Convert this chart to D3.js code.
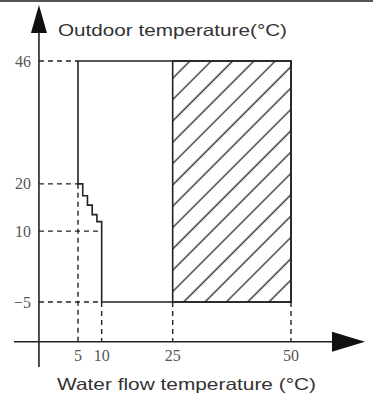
<!DOCTYPE html>
<html>
<head>
<meta charset="utf-8">
<script src="https://cdn.jsdelivr.net/npm/d3@7"></script>
<style>
  html, body { margin: 0; padding: 0; background: #fff; }
  svg { display: block; }
</style>
</head>
<body>
<script>
// ---- data ----
const xTicks = [5, 10, 25, 50];
const yTicks = [46, 20, 10, -5];
const xTickLabels = ["5", "10", "25", "50"];
const yTickLabels = ["46", "20", "10", "\u22125"];
// operating envelope outline (water flow temp, outdoor temp)
const envelopeX = [5, 5, 6, 6, 7, 7, 8, 8, 9, 9, 10, 10, 50, 50, 5];
const envelopeY = [46, 20, 20, 17.5, 17.5, 15.5, 15.5, 13.5, 13.5, 12, 12, -5, -5, 46, 46];
// hatched zone
const hatchX = [25, 50];
const hatchY = [-5, 46];
// reference dashed guides: [value, extends-to]
const hGuides = [[46, 5], [20, 5], [10, 10], [-5, 10]];
const vGuides = [[5, 20], [10, -5], [25, -5], [50, -5]];
const xTitle = "Water flow temperature (°C)";
const yTitle = "Outdoor temperature(°C)";
const axisXAt = -3.25;   // x-value where the vertical axis sits
const axisYAt = -13.4;   // y-value where the horizontal axis sits

// ---- drawing ----
const W = 373, H = 398;
const svg = d3.select("body").append("svg").attr("width", W).attr("height", H);

const x = d3.scaleLinear().domain([5, 50]).range([78, 291]);
const y = d3.scaleLinear().domain([-5, 46]).range([302, 61]);

const ink = "#222";
const defs = svg.append("defs");
const pw = 21.33 / Math.SQRT2;
const pat = defs.append("pattern")
  .attr("id", "hatch")
  .attr("patternUnits", "userSpaceOnUse")
  .attr("width", pw).attr("height", pw)
  .attr("patternTransform", "rotate(45)");
pat.append("line")
  .attr("x1", 11.6).attr("x2", 11.6).attr("y1", -1).attr("y2", pw + 1)
  .attr("stroke", "#333").attr("stroke-width", 1.4);

// top frame line
svg.append("line").attr("x1", 0).attr("x2", W).attr("y1", 1).attr("y2", 1)
  .attr("stroke", "#555").attr("stroke-width", 2);

// hatched area
svg.append("rect")
  .attr("x", x(hatchX[0])).attr("y", y(hatchY[1]))
  .attr("width", x(hatchX[1]) - x(hatchX[0]))
  .attr("height", y(hatchY[0]) - y(hatchY[1]))
  .attr("fill", "url(#hatch)")
  .attr("stroke", ink).attr("stroke-width", 1.6);

// dashed guides
const ax0 = x(axisXAt), ay0 = y(axisYAt);
const dash = "5,4";
hGuides.forEach(([v, to]) => {
  svg.append("line").attr("x1", ax0).attr("x2", x(to)).attr("y1", y(v)).attr("y2", y(v))
    .attr("stroke", ink).attr("stroke-width", 1.4).attr("stroke-dasharray", dash);
});
vGuides.forEach(([v, from]) => {
  svg.append("line").attr("x1", x(v)).attr("x2", x(v)).attr("y1", y(from)).attr("y2", ay0)
    .attr("stroke", ink).attr("stroke-width", 1.4).attr("stroke-dasharray", dash);
});

// envelope outline
const pts = envelopeX.map((d, i) => [x(d), y(envelopeY[i])]);
svg.append("path").attr("d", d3.line()(pts))
  .attr("fill", "none").attr("stroke", ink).attr("stroke-width", 1.6)
  .attr("stroke-linejoin", "miter");

// axes
svg.append("line").attr("x1", ax0).attr("x2", ax0).attr("y1", 28).attr("y2", 367)
  .attr("stroke", ink).attr("stroke-width", 1.6);
svg.append("line").attr("x1", 14).attr("x2", 340).attr("y1", ay0).attr("y2", ay0)
  .attr("stroke", ink).attr("stroke-width", 1.6);
// arrow heads
svg.append("path")
  .attr("d", `M${ax0},5 L${ax0 + 8},33 L${ax0 - 8},33 Z`).attr("fill", "#111");
svg.append("path")
  .attr("d", `M365,${ay0} L332,${ay0 - 10} L332,${ay0 + 10} Z`).attr("fill", "#111");

// tick labels
const tickFont = "'Liberation Serif', 'DejaVu Serif', serif";
svg.selectAll(".xt").data(xTicks).enter().append("text")
  .attr("x", d => x(d)).attr("y", 361)
  .attr("text-anchor", "middle")
  .attr("font-family", tickFont).attr("font-size", 16).attr("fill", "#555")
  .text((d, i) => xTickLabels[i]);
svg.selectAll(".yt").data(yTicks).enter().append("text")
  .attr("x", 31).attr("y", d => y(d) + 5.5)
  .attr("text-anchor", "end")
  .attr("font-family", tickFont).attr("font-size", 16).attr("fill", "#555")
  .text((d, i) => yTickLabels[i]);

// titles
const titleFont = "'Liberation Sans', Arial, sans-serif";
svg.append("text").attr("x", 58).attr("y", 36)
  .attr("font-family", titleFont).attr("font-size", 16.5).attr("fill", "#333")
  .attr("textLength", 229).attr("lengthAdjust", "spacingAndGlyphs")
  .text(yTitle);
svg.append("text").attr("x", 57).attr("y", 390)
  .attr("font-family", titleFont).attr("font-size", 16.5).attr("fill", "#333")
  .attr("textLength", 259).attr("lengthAdjust", "spacingAndGlyphs")
  .text(xTitle);
</script>
</body>
</html>
